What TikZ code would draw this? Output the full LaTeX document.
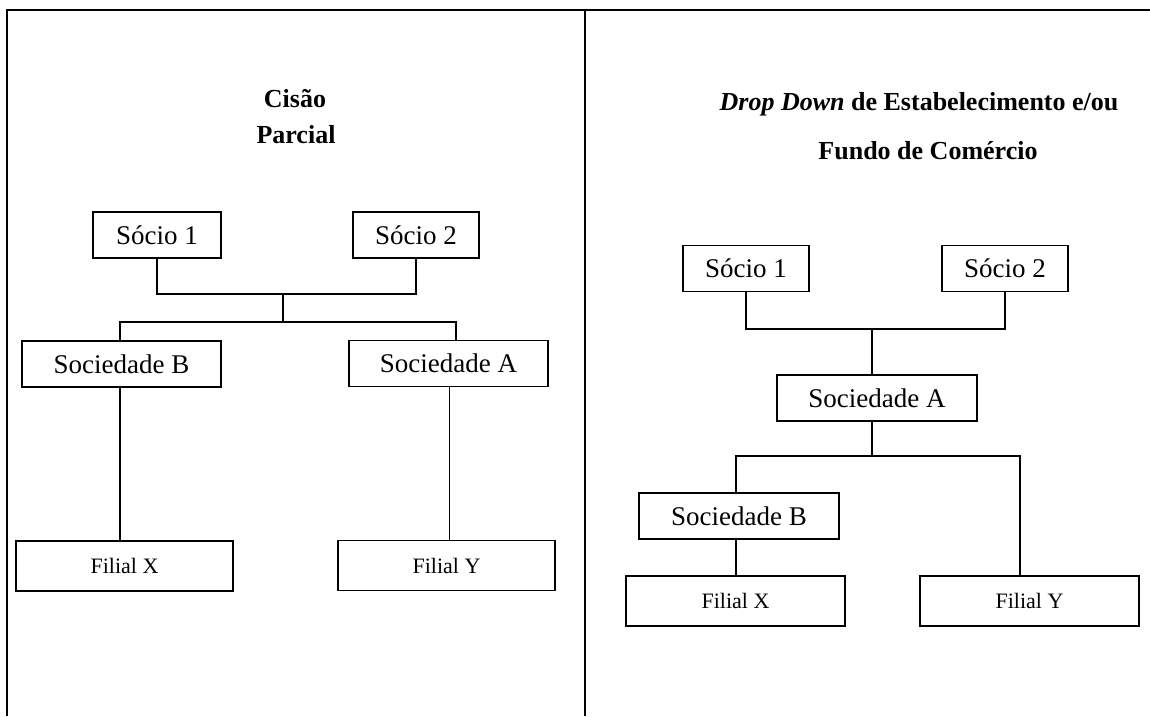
\documentclass[tikz,border=0pt]{standalone}
\usepackage{fontspec}
\setmainfont{Liberation Serif}

\begin{document}
\begin{tikzpicture}[x=1pt, y=-1pt,
    orgbox/.style={draw, line width=1.6pt, inner sep=0pt, minimum height=46pt, font=\fontsize{27}{32}\selectfont},
    filbox/.style={draw, line width=1.6pt, inner sep=0pt, minimum height=50pt, font=\fontsize{22}{26}\selectfont},
    titulo/.style={anchor=base, font=\fontsize{26}{30}\selectfont\bfseries},
    liga/.style={line width=1.3pt}]
    \useasboundingbox (0,0) rectangle (1150,716);

    % moldura da tabela
    \draw[line width=2pt] (7,716) -- (7,10) -- (1150,10);
    \draw[line width=1.3pt] (585,10) -- (585,716);

    % cisao parcial
    \node[titulo] at (295,107) (tc1) {Cisão};
    \node[titulo] at (296,143) (tc2) {Parcial};
    \node[orgbox, minimum width=128] at (157,235)     (ls1) {Sócio 1};
    \node[orgbox, minimum width=126] at (416,235)     (ls2) {Sócio 2};
    \node[orgbox, minimum width=199] at (121.5,364)   (lsb) {Sociedade B};
    \node[orgbox, minimum width=199] at (448.5,363.5) (lsa) {Sociedade A};
    \node[filbox, minimum width=217] at (124.5,566)   (lfx) {Filial X};
    \node[filbox, minimum width=217] at (446.5,565.5) (lfy) {Filial Y};
    \coordinate (lj1) at (283,294);
    \coordinate (lj2) at (283,322);

    \draw[liga] (ls1.south) |- (lj1) -| (ls2.south);
    \draw[liga] (lj1) -- (lj2);
    \draw[liga] ([xshift=-1.5pt]lsb.north) |- (lj2) -| ([xshift=7.5pt]lsa.north);
    \draw[liga] ([xshift=-1.5pt]lsb.south) -- ([xshift=-4.5pt]lfx.north);
    \draw[liga] ([xshift=1pt]lsa.south) -- ([xshift=3pt]lfy.north);

    % drop down
    \node[titulo] at (919,110) (td1) {\textit{Drop Down} de Estabelecimento e/ou};
    \node[titulo] at (928,159) (td2) {Fundo de Comércio};
    \node[orgbox, minimum width=126] at (746,268.5)  (rs1) {Sócio 1};
    \node[orgbox, minimum width=126] at (1005,268.5) (rs2) {Sócio 2};
    \node[orgbox, minimum width=200] at (877,398)    (rsa) {Sociedade A};
    \node[orgbox, minimum width=200] at (739,516)    (rsb) {Sociedade B};
    \node[filbox, minimum width=219] at (735.5,601)  (rfx) {Filial X};
    \node[filbox, minimum width=219] at (1029.5,601) (rfy) {Filial Y};
    \coordinate (rj1) at (872,329);
    \coordinate (rj2) at (872,456);

    \draw[liga] (rs1.south) |- (rj1) -| (rs2.south);
    \draw[liga] (rj1) -- ([xshift=-5pt]rsa.north);
    \draw[liga] ([xshift=-5pt]rsa.south) -- (rj2);
    \draw[liga] ([xshift=-3pt]rsb.north) |- (rj2) -| ([xshift=-9.5pt]rfy.north);
    \draw[liga] ([xshift=-3pt]rsb.south) -- ([xshift=0.5pt]rfx.north);
\end{tikzpicture}
\end{document}
